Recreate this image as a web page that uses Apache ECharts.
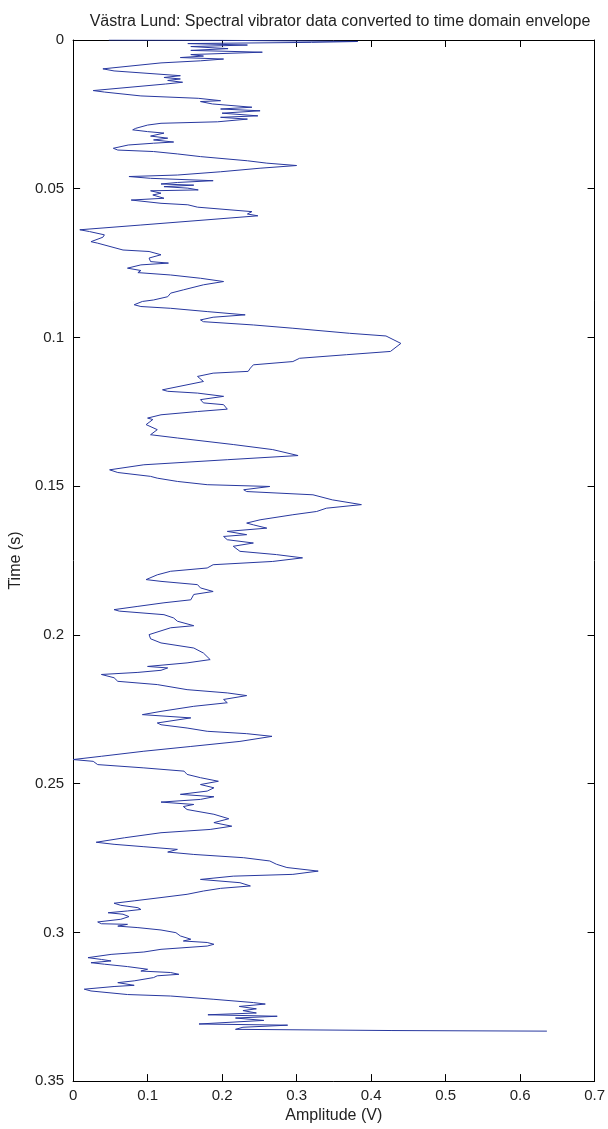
<!DOCTYPE html>
<html lang="en">
<head>
<meta charset="UTF-8">
<title>Västra Lund envelope</title>
<script src="https://cdn.jsdelivr.net/npm/echarts@6.0.0/dist/echarts.min.js"></script>
<style>
  html, body { margin: 0; padding: 0; background: #fff; }
  #main { width: 608px; height: 1129px; }
</style>
</head>
<body>
<div id="main"></div>
<script>
// time (s) of each traced vertex
const timeS = [
  0, 0.0001, 0.0005, 0.0008, 0.0012, 0.0017, 0.0022, 0.0029, 0.0035, 0.0041,
  0.0049, 0.0054, 0.0059, 0.0064, 0.0070, 0.0077, 0.0097, 0.0104, 0.0120, 0.0126,
  0.0131, 0.0136, 0.0142, 0.0148, 0.0170, 0.0175, 0.0188, 0.0196, 0.0204, 0.0207,
  0.0215, 0.0226, 0.0232, 0.0238, 0.0246, 0.0255, 0.0260, 0.0266, 0.0275, 0.0280,
  0.0286, 0.0297, 0.0302, 0.0308, 0.0313, 0.0323, 0.0330, 0.0336, 0.0343, 0.0347,
  0.0353, 0.0364, 0.0370, 0.0375, 0.0383, 0.0392, 0.0406, 0.0414, 0.0422, 0.0431,
  0.0443, 0.0454, 0.0459, 0.0465, 0.0473, 0.0479, 0.0484, 0.0488, 0.0493, 0.0498,
  0.0504, 0.0507, 0.0515, 0.0521, 0.0532, 0.0538, 0.0549, 0.0554, 0.0562, 0.0577,
  0.0585, 0.0591, 0.0622, 0.0638, 0.0644, 0.0655, 0.0663, 0.0678, 0.0683, 0.0706,
  0.0711, 0.0722, 0.0733, 0.0745, 0.0750, 0.0756, 0.0767, 0.0775, 0.0782, 0.0790,
  0.0801, 0.0812, 0.0823, 0.0840, 0.0851, 0.0863, 0.0874, 0.0879, 0.0890, 0.0896,
  0.0902, 0.0913, 0.0924, 0.0932, 0.0941, 0.0947, 0.0958, 0.0969, 0.0986, 0.0995,
  0.1020, 0.1047, 0.1058, 0.1070, 0.1081, 0.1092, 0.1103, 0.1114, 0.1120, 0.1131,
  0.1136, 0.1148, 0.1176, 0.1181, 0.1187, 0.1198, 0.1209, 0.1220, 0.1226, 0.1241,
  0.1249, 0.1260, 0.1271, 0.1276, 0.1293, 0.1310, 0.1327, 0.1338, 0.1360, 0.1377,
  0.1397, 0.1411, 0.1428, 0.1445, 0.1454, 0.1467, 0.1473, 0.1484, 0.1495, 0.1501,
  0.1512, 0.1518, 0.1529, 0.1546, 0.1562, 0.1574, 0.1585, 0.1596, 0.1613, 0.1624,
  0.1630, 0.1641, 0.1652, 0.1663, 0.1669, 0.1680, 0.1691, 0.1702, 0.1719, 0.1730,
  0.1741, 0.1753, 0.1764, 0.1775, 0.1786, 0.1798, 0.1814, 0.1820, 0.1831, 0.1842,
  0.1854, 0.1864, 0.1882, 0.1892, 0.1904, 0.1915, 0.1920, 0.1932, 0.1943, 0.1954,
  0.1969, 0.1976, 0.1999, 0.2013, 0.2027, 0.2044, 0.2061, 0.2083, 0.2094, 0.2106,
  0.2111, 0.2119, 0.2126, 0.2133, 0.2144, 0.2156, 0.2167, 0.2184, 0.2195, 0.2204,
  0.2217, 0.2228, 0.2240, 0.2257, 0.2268, 0.2279, 0.2296, 0.2302, 0.2313, 0.2324,
  0.2332, 0.2341, 0.2358, 0.2375, 0.2391, 0.2408, 0.2419, 0.2425, 0.2436, 0.2447,
  0.2458, 0.2469, 0.2480, 0.2492, 0.2503, 0.2514, 0.2525, 0.2536, 0.2544, 0.2553,
  0.2562, 0.2570, 0.2577, 0.2587, 0.2603, 0.2618, 0.2631, 0.2643, 0.2654, 0.2665,
  0.2682, 0.2697, 0.2704, 0.2712, 0.2721, 0.2730, 0.2738, 0.2749, 0.2760, 0.2771,
  0.2782, 0.2794, 0.2805, 0.2811, 0.2822, 0.2833, 0.2844, 0.2852, 0.2861, 0.2872,
  0.2883, 0.2894, 0.2902, 0.2909, 0.2917, 0.2923, 0.2928, 0.2934, 0.2939, 0.2947,
  0.2956, 0.2965, 0.2971, 0.2973, 0.2979, 0.2984, 0.2992, 0.3001, 0.3012, 0.3023,
  0.3029, 0.3034, 0.3040, 0.3046, 0.3057, 0.3066, 0.3074, 0.3085, 0.3091, 0.3096,
  0.3102, 0.3107, 0.3115, 0.3124, 0.3130, 0.3135, 0.3141, 0.3146, 0.3152, 0.3163,
  0.3169, 0.3178, 0.3182, 0.3191, 0.3197, 0.3209, 0.3214, 0.3225, 0.3236, 0.3241,
  0.3249, 0.3257, 0.3263, 0.3271, 0.3277, 0.3282, 0.3288, 0.3296, 0.3308, 0.3312,
  0.3319, 0.3326, 0.3330, 0.3332
];

// envelope amplitude (V) at those times
const amplitudeV = [
  0.048, 0.200, 0.382, 0.320, 0.154, 0.234, 0.158, 0.208, 0.158, 0.254,
  0.158, 0.175, 0.144, 0.202, 0.171, 0.118, 0.040, 0.055, 0.144, 0.122,
  0.144, 0.127, 0.147, 0.124, 0.027, 0.042, 0.091, 0.168, 0.198, 0.171,
  0.187, 0.240, 0.198, 0.251, 0.200, 0.248, 0.198, 0.234, 0.194, 0.118,
  0.100, 0.084, 0.080, 0.100, 0.122, 0.104, 0.127, 0.108, 0.135, 0.108,
  0.074, 0.054, 0.060, 0.108, 0.140, 0.171, 0.234, 0.260, 0.300, 0.251,
  0.198, 0.140, 0.075, 0.104, 0.188, 0.140, 0.118, 0.162, 0.122, 0.154,
  0.168, 0.104, 0.118, 0.107, 0.122, 0.078, 0.118, 0.154, 0.167, 0.240,
  0.234, 0.248, 0.091, 0.009, 0.022, 0.042, 0.040, 0.024, 0.033, 0.067,
  0.102, 0.118, 0.102, 0.104, 0.128, 0.091, 0.073, 0.091, 0.087, 0.131,
  0.171, 0.202, 0.175, 0.148, 0.131, 0.127, 0.108, 0.093, 0.082, 0.091,
  0.131, 0.180, 0.231, 0.188, 0.171, 0.175, 0.242, 0.295, 0.371, 0.420,
  0.440, 0.426, 0.367, 0.304, 0.295, 0.242, 0.238, 0.235, 0.188, 0.167,
  0.167, 0.175, 0.120, 0.127, 0.167, 0.202, 0.171, 0.175, 0.202, 0.207,
  0.167, 0.118, 0.100, 0.107, 0.098, 0.113, 0.104, 0.140, 0.215, 0.268,
  0.302, 0.207, 0.095, 0.049, 0.060, 0.104, 0.113, 0.140, 0.180, 0.264,
  0.229, 0.233, 0.322, 0.348, 0.387, 0.340, 0.327, 0.295, 0.251, 0.233,
  0.242, 0.260, 0.207, 0.233, 0.202, 0.207, 0.242, 0.215, 0.224, 0.273,
  0.308, 0.268, 0.188, 0.180, 0.131, 0.113, 0.098, 0.118, 0.167, 0.171,
  0.188, 0.162, 0.158, 0.122, 0.087, 0.055, 0.062, 0.122, 0.135, 0.140,
  0.162, 0.131, 0.102, 0.104, 0.118, 0.162, 0.175, 0.184, 0.153, 0.100,
  0.127, 0.118, 0.087, 0.038, 0.055, 0.060, 0.113, 0.153, 0.207, 0.233,
  0.202, 0.207, 0.162, 0.118, 0.093, 0.158, 0.113, 0.118, 0.153, 0.180,
  0.233, 0.267, 0.224, 0.158, 0.095, 0.038, 0.000, 0.027, 0.033, 0.095,
  0.149, 0.153, 0.171, 0.195, 0.171, 0.189, 0.180, 0.144, 0.189, 0.171,
  0.118, 0.162, 0.148, 0.153, 0.189, 0.209, 0.189, 0.213, 0.184, 0.118,
  0.069, 0.031, 0.055, 0.095, 0.140, 0.127, 0.162, 0.229, 0.264, 0.273,
  0.287, 0.329, 0.295, 0.215, 0.171, 0.224, 0.238, 0.198, 0.175, 0.153,
  0.118, 0.082, 0.055, 0.064, 0.087, 0.091, 0.073, 0.047, 0.067, 0.075,
  0.064, 0.033, 0.038, 0.073, 0.060, 0.087, 0.118, 0.138, 0.144, 0.158,
  0.148, 0.180, 0.189, 0.180, 0.118, 0.095, 0.051, 0.020, 0.038, 0.051,
  0.024, 0.042, 0.073, 0.100, 0.091, 0.131, 0.142, 0.113, 0.108, 0.082,
  0.060, 0.082, 0.055, 0.015, 0.024, 0.073, 0.131, 0.189, 0.242, 0.258,
  0.223, 0.246, 0.228, 0.246, 0.181, 0.274, 0.218, 0.256, 0.169, 0.288,
  0.228, 0.218, 0.428, 0.636
];

const ampTicks = [0, 0.7, 0.1];     // min, max, step
const timeTicks = [0, 0.35, 0.05];

const chartDom = document.getElementById('main');
const myChart = echarts.init(chartDom);

const points = timeS.map((t, i) => [amplitudeV[i], t]);

const font = 'Liberation Sans, Arial, sans-serif';
const inkTick = { show: true, inside: true, length: 7, lineStyle: { color: '#000' } };

const option = {
  animation: false,
  backgroundColor: '#fff',
  title: {
    text: 'Västra Lund: Spectral vibrator data converted to time domain envelope',
    left: 335,
    top: 9,
    textAlign: 'center',
    textStyle: { fontFamily: font, fontSize: 16, fontWeight: 'normal', color: '#222' }
  },
  grid: { left: 72, right: 13, top: 40, bottom: 47 },
  xAxis: [
    {
      type: 'value',
      position: 'bottom',
      min: ampTicks[0], max: ampTicks[1], interval: ampTicks[2],
      name: 'Amplitude (V)',
      nameLocation: 'middle',
      nameGap: 25,
      nameTextStyle: { fontFamily: font, fontSize: 16, color: '#222' },
      axisLine: { show: true, onZero: false, lineStyle: { color: '#000' } },
      axisTick: inkTick,
      axisLabel: { fontFamily: font, fontSize: 15, color: '#222', margin: 7 },
      splitLine: { show: false }
    },
    {
      type: 'value',
      position: 'top',
      min: ampTicks[0], max: ampTicks[1], interval: ampTicks[2],
      axisLine: { show: true, onZero: false, lineStyle: { color: '#000' } },
      axisTick: inkTick,
      axisLabel: { show: false },
      splitLine: { show: false }
    }
  ],
  yAxis: [
    {
      type: 'value',
      position: 'left',
      inverse: true,
      min: timeTicks[0], max: timeTicks[1], interval: timeTicks[2],
      name: 'Time (s)',
      nameLocation: 'middle',
      nameGap: 47,
      nameTextStyle: { fontFamily: font, fontSize: 16, color: '#222' },
      axisLine: { show: true, onZero: false, lineStyle: { color: '#000' } },
      axisTick: inkTick,
      axisLabel: { fontFamily: font, fontSize: 15, color: '#222', margin: 9 },
      splitLine: { show: false }
    },
    {
      type: 'value',
      position: 'right',
      inverse: true,
      min: timeTicks[0], max: timeTicks[1], interval: timeTicks[2],
      axisLine: { show: true, onZero: false, lineStyle: { color: '#000' } },
      axisTick: inkTick,
      axisLabel: { show: false },
      splitLine: { show: false }
    }
  ],
  series: [
    {
      type: 'line',
      xAxisIndex: 0,
      yAxisIndex: 0,
      data: points,
      showSymbol: false,
      symbol: 'none',
      lineStyle: { color: '#28389f', width: 1 }
    }
  ]
};

option && myChart.setOption(option);
</script>
</body>
</html>
